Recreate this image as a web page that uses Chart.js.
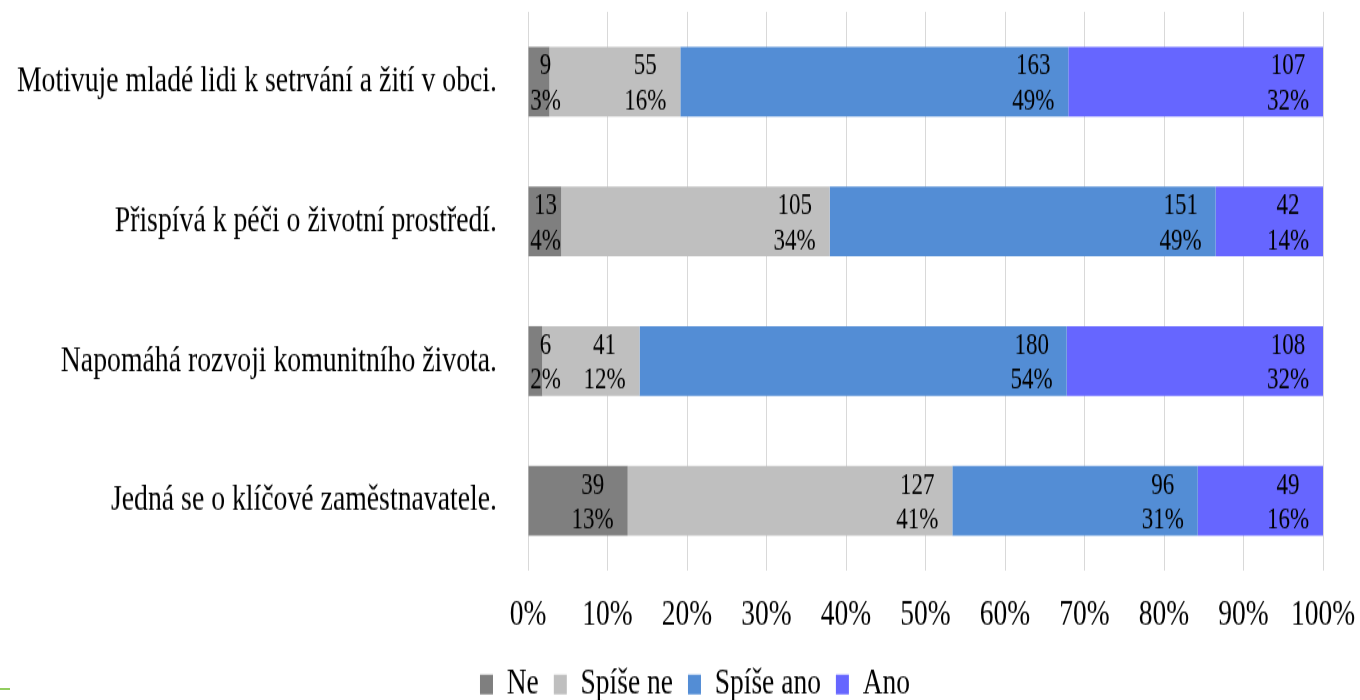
<!DOCTYPE html>
<html>
<head>
<meta charset="utf-8">
<script src="https://cdn.jsdelivr.net/npm/chart.js@4.4.1/dist/chart.umd.min.js"></script>
<style>
  html, body { margin: 0; padding: 0; background: #fff; overflow: hidden; width: 1360px; height: 700px; }
  #wrap { position: absolute; left: 0; top: 0; width: 1360px; height: 545px; transform: scaleY(1.3208); transform-origin: 0 0; }
  #deco { position: absolute; left: 0; top: 688px; width: 10px; height: 2px; background: #92cd5f; }
</style>
</head>
<body>
<div id="wrap"><canvas id="c" width="1360" height="545"></canvas></div>
<div id="deco"></div>
<script>
const categories = [
  'Motivuje mladé lidi k setrvání a žití v obci.',
  'Přispívá k péči o životní prostředí.',
  'Napomáhá rozvoji komunitního života.',
  'Jedná se o klíčové zaměstnavatele.'
];
const seriesNames = ['Ne', 'Spíše ne', 'Spíše ano', 'Ano'];
const ne       = [9, 13, 6, 39];
const spiseNe  = [55, 105, 41, 127];
const spiseAno = [163, 151, 180, 96];
const ano      = [107, 42, 108, 49];
const xTickLabels = ['0%','10%','20%','30%','40%','50%','60%','70%','80%','90%','100%'];

const seriesValues = [ne, spiseNe, spiseAno, ano];
const colors = ['#7f7f7f', '#bfbfbf', '#538dd5', '#6666ff'];
const totals = categories.map((_, j) => seriesValues.reduce((s, arr) => s + arr[j], 0));

const FONT = '"Liberation Serif", "Times New Roman", serif';

const labelPlugin = {
  id: 'segLabels',
  afterLayout(chart) {
    if (chart.legend) {
      chart.legend.left += 33.5;
      chart.legend.right += 33.5;
    }
  },
  afterDatasetsDraw(chart) {
    const ctx = chart.ctx;
    ctx.save();
    ctx.font = '23px ' + FONT;
    ctx.fillStyle = '#000';
    ctx.textAlign = 'center';
    ctx.textBaseline = 'middle';
    chart.data.datasets.forEach((ds, i) => {
      const meta = chart.getDatasetMeta(i);
      meta.data.forEach((bar, j) => {
        const v = seriesValues[i][j];
        const pct = Math.round(v / totals[j] * 100);
        const start = Math.min(bar.base, bar.x), end = Math.max(bar.base, bar.x);
        const cx = Math.max(end - 35, start + 17);
        ctx.fillText(String(v), cx, bar.y - 11.5);
        ctx.fillText(pct + '%', cx, bar.y + 15);
      });
    });
    ctx.restore();
  }
};

new Chart(document.getElementById('c'), {
  type: 'bar',
  data: {
    labels: categories,
    datasets: seriesValues.map((arr, i) => ({
      label: seriesNames[i],
      data: arr.map((v, j) => v / totals[j] * 100),
      backgroundColor: colors[i],
      borderWidth: 0,
      categoryPercentage: 1,
      barPercentage: 0.5
    }))
  },
  options: {
    indexAxis: 'y',
    responsive: false,
    animation: false,
    devicePixelRatio: 1,
    layout: { padding: { top: 9, right: 37, left: 0, bottom: 3 } },
    plugins: {
      tooltip: { enabled: false },
      legend: {
        position: 'bottom',
        labels: {
          font: { family: FONT, size: 27.5 },
          color: '#000',
          boxWidth: 13,
          boxHeight: 15,
          padding: 15
        }
      }
    },
    scales: {
      x: {
        stacked: true,
        min: 0,
        max: 100,
        grid: { color: '#d9d9d9', lineWidth: 1, drawTicks: false },
        border: { display: false },
        ticks: {
          stepSize: 10,
          padding: 17,
          color: '#000',
          maxRotation: 0,
          autoSkip: false,
          font: { family: FONT, size: 27.5 },
          callback: (v, idx) => xTickLabels[idx]
        },
        afterFit(scale) {
          scale.height -= 9.5;
          scale.paddingLeft = 0;
          scale.paddingRight = 0;
        }
      },
      y: {
        stacked: true,
        grid: { display: false, drawTicks: false },
        border: { display: false },
        ticks: {
          padding: 31,
          color: '#000',
          font: { family: FONT, size: 27.75 }
        },
        afterFit(scale) {
          scale.width = 528;
          scale.paddingTop = 0;
          scale.paddingBottom = 0;
        }
      }
    }
  },
  plugins: [labelPlugin]
});
</script>
</body>
</html>
